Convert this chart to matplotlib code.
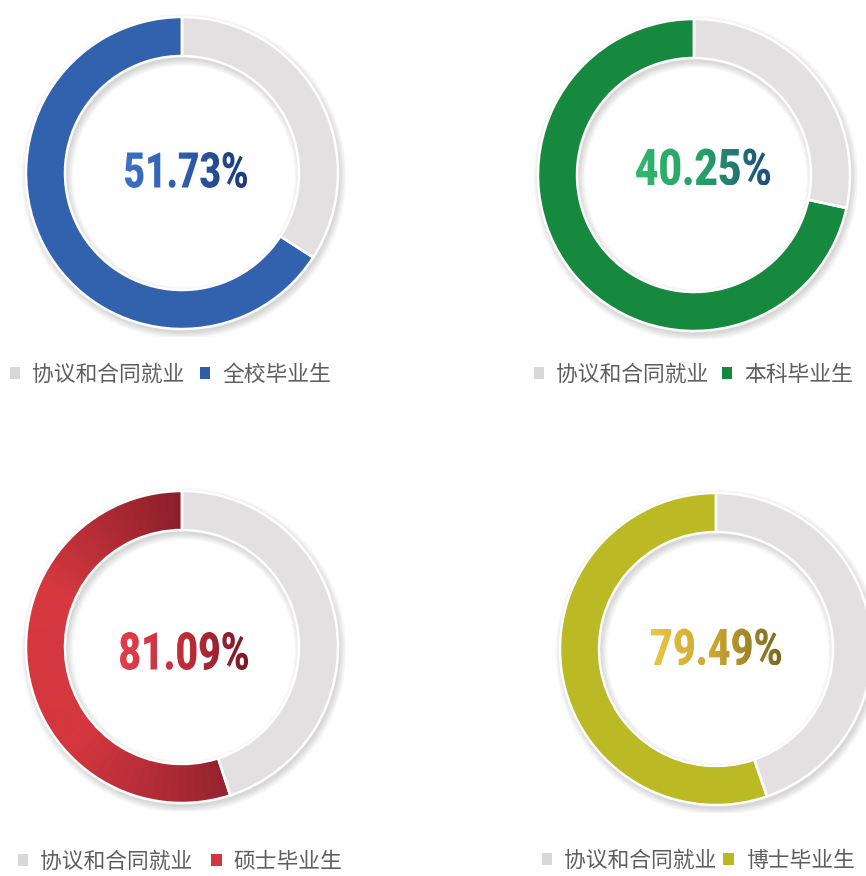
import numpy as np
import matplotlib
matplotlib.use("Agg")
import matplotlib.pyplot as plt
from matplotlib.textpath import TextPath
from matplotlib.patches import PathPatch, Wedge, Patch
from matplotlib.font_manager import FontProperties, findfont
from matplotlib.transforms import Affine2D
from matplotlib.colors import LinearSegmentedColormap

plt.rcParams['font.family'] = ['Noto Sans CJK SC', 'DejaVu Sans']

# ---------------- data ----------------
groups = ["全校毕业生", "本科毕业生", "硕士毕业生", "博士毕业生"]
other_label = "协议和合同就业"
center_labels = ["51.73%", "40.25%", "81.09%", "79.49%"]
ring_share = [65.9, 71.6, 55.0, 55.3]          # coloured arc share as drawn (%)
gray_share = [100 - v for v in ring_share]

# ---------------- style ----------------
gray_col = "#e2e0e0"
legend_gray = "#d9d8d8"
ring_stops = [
    ["#2e5ca6", "#3262ae", "#2f5ea8"],
    ["#15873f", "#17893f", "#15853e"],
    ["#8c1e2a", "#d5383f", "#d4363e", "#962330"],
    ["#b8b622", "#bbb924", "#b9b822"],
]
legend_cols = ["#2f5ea8", "#15873f", "#d2353f", "#b9b822"]
text_grads = [
    ["#3d71c6", "#2f5cab", "#1d3a7c"],
    ["#2fb86c", "#27a068", "#1e4d80"],
    ["#e43d48", "#c02e3a", "#7a1926"],
    ["#ebc545", "#c9a430", "#786a1e"],
]

W, H = 866, 876
centers = [(182, 173), (694, 175), (182, 647), (716, 649)]
R = 156
text_off = [(4, 3), (9, 8), (2, -4), (0, 2)]
text_wh = [(122, 36), (134, 37), (128, 38), (130, 37)]
legend_pos = [(10, 375), (534, 375), (18, 862), (542, 861)]
col_space = [0.7, 0.6, 0.85, 0.3]

fig = plt.figure(figsize=(W / 100, H / 100), dpi=100)
fig.patch.set_facecolor("white")


def pick_font():
    for fam in ["Roboto", "Lato", "Inter", "Open Sans", "DejaVu Sans"]:
        try:
            fp = FontProperties(family=fam, weight="black")
            findfont(fp, fallback_to_default=False)
            return fp
        except Exception:
            continue
    return FontProperties(family="DejaVu Sans", weight="bold")


num_fp = pick_font()

ring_w = 0.25
for i in range(4):
    cx, cy = centers[i]
    ax = fig.add_axes([(cx - R) / W, (H - cy - R) / H, 2 * R / W, 2 * R / H])
    ax.set_axis_off()

    # soft drop shadow of the ring
    for k in range(8):
        sh = Wedge((0.012, -0.022), 1.0 + 0.006 * k, 0, 360,
                   width=ring_w + 0.012 * k, facecolor="black",
                   edgecolor="none", alpha=0.018, zorder=0)
        ax.add_patch(sh)

    n = 60 if i == 2 else 1
    cmap = LinearSegmentedColormap.from_list("r%d" % i, ring_stops[i])
    sub_vals = [ring_share[i] / n] * n
    sub_cols = [cmap(1 - (j + 0.5) / n) for j in range(n)]
    vals = [gray_share[i]] + sub_vals
    cols = [gray_col] + sub_cols
    wedges, _ = ax.pie(vals, colors=cols, startangle=90, counterclock=False,
                       radius=1.0,
                       wedgeprops=dict(width=ring_w, linewidth=0.6))
    for w, c in zip(wedges, cols):
        w.set_edgecolor(c)
        w.set_zorder(2)
    outl, _ = ax.pie([gray_share[i], ring_share[i]], colors=["none", "none"],
                     startangle=90, counterclock=False, radius=1.0,
                     wedgeprops=dict(width=ring_w, linewidth=1.8,
                                     edgecolor="white"))
    for w in outl:
        w.set_facecolor("none")
        w.set_zorder(3)

    # gradient-filled percentage text
    tp = TextPath((0, 0), center_labels[i], size=1, prop=num_fp)
    ext = tp.get_extents()
    tw, th = text_wh[i][0] / R, text_wh[i][1] / R
    tcx = text_off[i][0] / R
    tcy = text_off[i][1] / R
    tr = (Affine2D().translate(-ext.x0, -ext.y0)
          .scale(tw / ext.width, th / ext.height)
          .translate(tcx - tw / 2, tcy - th / 2))
    path = tr.transform_path(tp)
    patch = PathPatch(path, facecolor="none", edgecolor="none", zorder=4)
    ax.add_patch(patch)
    tcmap = LinearSegmentedColormap.from_list("t%d" % i, text_grads[i])
    grad = np.linspace(0, 1, 256).reshape(1, -1)
    im = ax.imshow(grad, cmap=tcmap, aspect="auto", zorder=5,
                   extent=[tcx - tw / 2, tcx + tw / 2, tcy - th / 2, tcy + th / 2])
    im.set_clip_path(patch)

    ax.set_xlim(-1.05, 1.05)
    ax.set_ylim(-1.05, 1.05)
    ax.set_aspect("equal")
    ax.set_position([(cx - R * 1.05) / W, (H - cy - R * 1.05) / H,
                     2 * R * 1.05 / W, 2 * R * 1.05 / H])

    handles = [Patch(facecolor=legend_gray, edgecolor="none"),
               Patch(facecolor=legend_cols[i], edgecolor="none")]
    lx, ly = legend_pos[i]
    fig.legend(handles, [other_label, groups[i]], loc="center left",
               bbox_to_anchor=(lx / W, 1 - ly / H), ncol=2, frameon=False,
               labelcolor="#5e5e5e", borderpad=0,
               borderaxespad=0, handlelength=0.48, handleheight=0.48,
               handletextpad=0.55, columnspacing=col_space[i],
               prop=dict(family=['Noto Sans CJK SC', 'DejaVu Sans'],
                         weight='light', size=15.7))

fig.savefig("out.png", dpi=100, facecolor="white")
